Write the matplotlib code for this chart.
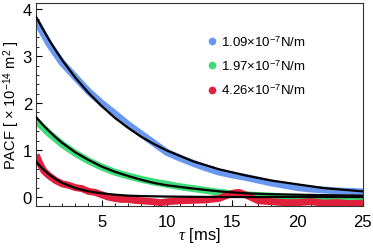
import matplotlib.pyplot as plt
from matplotlib.ticker import MultipleLocator

plt.rcParams['font.family'] = ['Liberation Sans', 'DejaVu Sans']
plt.rcParams['mathtext.fontset'] = 'custom'
plt.rcParams['mathtext.rm'] = 'Liberation Sans'
plt.rcParams['mathtext.it'] = 'Liberation Serif:italic'

# time axis samples [ms]
t_blue = [0, 0.5, 1, 2, 3, 4, 5, 6, 7, 8, 9, 10, 11, 12, 13, 14, 15, 16, 17,
          18, 19, 20, 21, 22, 23, 24, 25]
blue_data = [3.75, 3.5, 3.25, 2.85, 2.55, 2.25, 2.0, 1.78, 1.55, 1.35, 1.15,
             0.95, 0.83, 0.72, 0.62, 0.53, 0.47, 0.42, 0.36, 0.30, 0.25, 0.20,
             0.17, 0.15, 0.13, 0.12, 0.11]

t_green = [0, 1, 2, 3, 4, 5, 6, 7, 8, 9, 10, 11, 12, 13, 14, 15, 16, 17, 18,
           19, 20, 21, 22, 23, 24, 25]
green_data = [1.62, 1.35, 1.12, 0.93, 0.77, 0.64, 0.53, 0.45, 0.38, 0.32, 0.27,
              0.22, 0.18, 0.14, 0.10, 0.07, 0.05, 0.03, 0.02, 0.0, -0.02, -0.03,
              -0.04, -0.04, -0.05, -0.05]

t_red = [0, 0.3, 0.6, 1, 1.5, 2, 2.5, 3, 3.5, 4, 4.5, 5, 5.5, 6, 6.5, 7, 7.5,
         8, 9, 9.5, 10, 11, 12, 13, 14, 15, 15.5, 16, 17, 18, 19, 20, 21, 22,
         23, 24, 25]
red_data = [0.9, 0.7, 0.55, 0.45, 0.35, 0.28, 0.25, 0.2, 0.18, 0.12, 0.1,
            0.05, 0.0, -0.03, -0.05, -0.05, -0.07, -0.08, -0.1, -0.12, -0.1,
            -0.08, -0.07, -0.06, -0.03, 0.08, 0.1, 0.05, -0.08, -0.1, -0.12,
            -0.12, -0.1, -0.13, -0.12, -0.14, -0.13]

# fitted curves
t_fit = [0, 0.5, 1, 1.5, 2, 3, 4, 5, 6, 7, 8, 9, 10, 12, 14, 16, 18, 20, 22, 25]
blue_fit = [3.83, 3.58, 3.34, 3.12, 2.91, 2.54, 2.22, 1.94, 1.69, 1.48, 1.29,
            1.13, 0.99, 0.76, 0.59, 0.46, 0.35, 0.27, 0.19, 0.12]
green_fit = [1.70, 1.54, 1.40, 1.27, 1.15, 0.95, 0.79, 0.65, 0.54, 0.45, 0.37,
             0.30, 0.25, 0.18, 0.12, 0.08, 0.06, 0.05, 0.04, 0.03]
red_fit = [0.75, 0.6, 0.48, 0.38, 0.30, 0.19, 0.12, 0.08, 0.05, 0.03, 0.02,
           0.015, 0.01, 0.005, 0, 0, 0, 0, 0, 0]

labels = [r'1.09$\times$10$^{-7}$N/m', r'1.97$\times$10$^{-7}$N/m',
          r'4.26$\times$10$^{-7}$N/m']
colors = ['#6a98f0', '#3ddc78', '#e0203c']

fig = plt.figure(figsize=(3.73, 2.53), dpi=100)
ax = fig.add_axes([0.097, 0.182, 0.876, 0.802])

for t, d, c, lab in zip([t_blue, t_green, t_red],
                        [blue_data, green_data, red_data], colors, labels):
    ax.plot(t, d, color=c, lw=5, solid_capstyle='butt', zorder=2)
    ax.plot([], [], 'o', color=c, ms=4.5, label=lab)

for f in [blue_fit, green_fit, red_fit]:
    ax.plot(t_fit, f, color='black', lw=1.6, zorder=3)

ax.set_xlim(0, 25)
ax.set_ylim(-0.19, 4.13)
ax.xaxis.set_major_locator(MultipleLocator(5))
ax.xaxis.set_minor_locator(MultipleLocator(1))
ax.yaxis.set_major_locator(MultipleLocator(1))
ax.yaxis.set_minor_locator(MultipleLocator(0.2))
ax.set_xticks([5, 10, 15, 20, 25])
ax.tick_params(which='both', direction='in', top=False, right=False,
               labelsize=12)
ax.tick_params(axis='x', pad=6)
ax.tick_params(axis='y', pad=3)
ax.tick_params(which='major', length=4)
ax.tick_params(which='minor', length=2)
for s in ax.spines.values():
    s.set_linewidth(0.8)
    s.set_color('#333333')

ax.set_xlabel(r'$\tau$ [ms]', fontsize=12, labelpad=-3)
ax.set_ylabel(r'PACF [ $\times$ 10$^{-14}$ m$^{2}$ ]', fontsize=10.5)
ax.yaxis.set_label_coords(-0.042, 0.5)

ax.legend(loc='upper left', bbox_to_anchor=(0.49, 0.905), frameon=False,
          fontsize=9.5, handlelength=0.6, handletextpad=0.4,
          labelspacing=0.75)

fig.savefig('out.png', dpi=100)
